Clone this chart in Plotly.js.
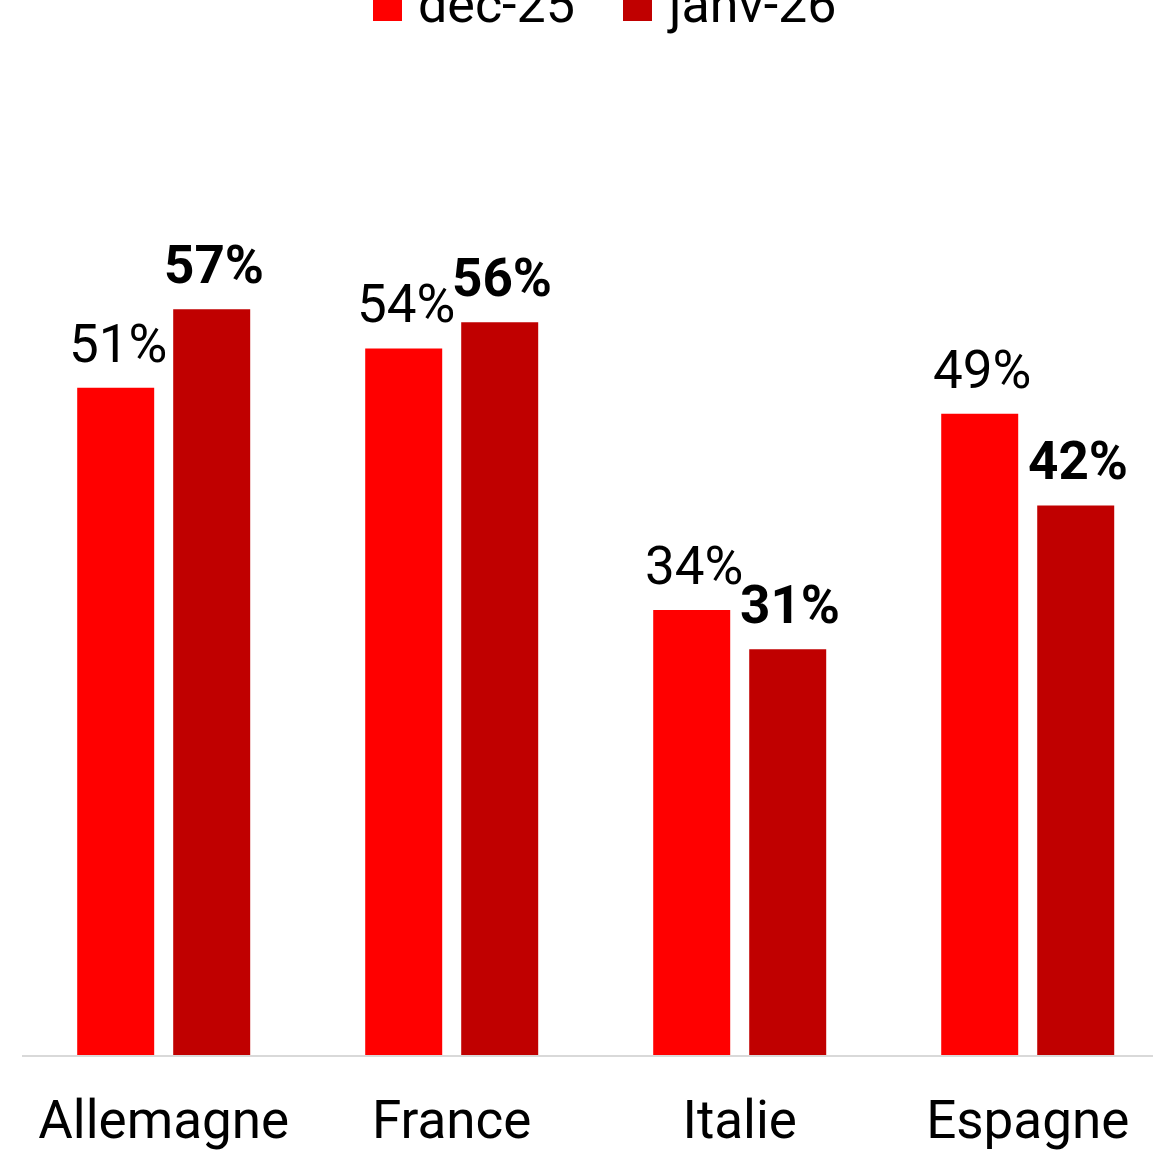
<!DOCTYPE html>
<html>
<head>
<meta charset="utf-8">
<script src="https://cdn.plot.ly/plotly-3.0.1.min.js"></script>
<style>html,body{margin:0;padding:0;background:#fff;}#chart{width:1153px;height:1153px;}</style>
</head>
<body>
<div id="chart"></div>
<script>
const categories = ["Allemagne", "France", "Italie", "Espagne"];
const seriesNames = ["déc-25", "janv-26"];
const dec25 = [51, 54, 34, 49];
const janv26 = [57, 56, 31, 42];
const colors = ["#ff0000", "#c00000"];

const fmt = v => v + "%";

const W = 1153, H = 1153;
const plotLeft = 22, plotRight = 1153, plotTop = 60, plotBottom = 1055;
const plotW = plotRight - plotLeft, plotH = plotBottom - plotTop;
const pxPerPct = 13.085;
const yMax = plotH / pxPerPct;
const catPx = 288;
const slotPx = 96;
const px2x = p => (p - plotLeft) / plotW;
const px2y = p => (plotBottom - p) / plotH;

const traces = [
  {
    type: "bar", name: seriesNames[0], x: categories, y: dec25,
    marker: {color: colors[0]}, showlegend: false, hoverinfo: "skip"
  },
  {
    type: "bar", name: seriesNames[1], x: categories, y: janv26,
    marker: {color: colors[1]}, showlegend: false, hoverinfo: "skip"
  }
];

const annotations = [];
const series = [dec25, janv26];
series.forEach((vals, s) => {
  vals.forEach((v, i) => {
    annotations.push({
      x: categories[i], y: v, xref: "x", yref: "y",
      xshift: (s === 0 ? -1 : 1) * slotPx / 2 + 2, yshift: 11,
      xanchor: "center", yanchor: "bottom", showarrow: false,
      text: fmt(v),
      font: {family: "Roboto", size: 53, color: "#000", weight: s === 1 ? "bold" : "normal"}
    });
  });
});

// legend
const legendSquares = [373, 623];
const legendTexts = [416, 665];
const shapes = [];
seriesNames.forEach((n, s) => {
  shapes.push({
    type: "rect", xref: "paper", yref: "paper",
    x0: px2x(legendSquares[s]), x1: px2x(legendSquares[s] + 29),
    y0: px2y(21), y1: px2y(-8),
    fillcolor: colors[s], line: {width: 0}
  });
  annotations.push({
    xref: "paper", yref: "paper", x: px2x(legendTexts[s]), y: px2y(37),
    xanchor: "left", yanchor: "bottom", showarrow: false, text: n,
    font: {family: "Roboto", size: 52, color: "#000"}
  });
});

const layout = {
  width: W, height: H,
  margin: {l: plotLeft, r: W - plotRight, t: plotTop, b: H - plotBottom, autoexpand: false},
  paper_bgcolor: "#fff", plot_bgcolor: "#fff",
  font: {family: "Roboto", color: "#000"},
  barmode: "group", bargap: 1 - 2 * slotPx / catPx, bargroupgap: 0.198,
  showlegend: false,
  annotations: annotations,
  shapes: shapes,
  xaxis: {
    type: "category", range: [-0.492, 3.435], showgrid: false, zeroline: false,
    showline: true, linecolor: "#d9d9d9", linewidth: 2,
    ticks: "", ticklabelstandoff: 17,
    tickfont: {family: "Roboto", size: 53, color: "#000"}, fixedrange: true
  },
  yaxis: {
    range: [0, yMax], visible: false, showgrid: false, zeroline: false, fixedrange: true
  }
};

Plotly.newPlot("chart", traces, layout, {displayModeBar: false, staticPlot: true});
</script>
</body>
</html>
